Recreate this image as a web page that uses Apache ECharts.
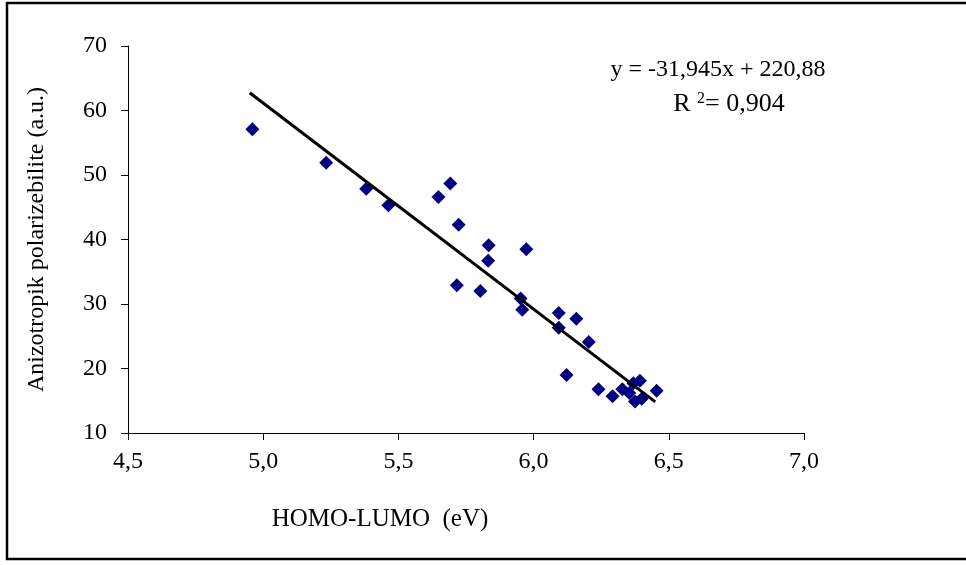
<!DOCTYPE html>
<html>
<head>
<meta charset="utf-8">
<script src="https://cdn.jsdelivr.net/npm/echarts@6/dist/echarts.min.js"></script>
<style>html,body{margin:0;padding:0;background:#fff}#c{width:966px;height:565px}</style>
</head>
<body>
<div id="c"></div>
<script>
// HOMO-LUMO gap (eV)
var gapX = [4.96, 5.233, 5.381, 5.463, 5.648, 5.692, 5.723, 5.834, 5.973, 5.832, 5.716, 5.803, 5.952, 5.958,
            6.093, 6.158, 6.093, 6.204, 6.122, 6.240, 6.292, 6.328, 6.354, 6.369, 6.393, 6.455, 6.375, 6.400];
// Anisotropic polarizability (a.u.)
var polY = [57.1, 51.9, 47.85, 45.3, 46.6, 48.7, 42.3, 39.1, 38.5, 36.7, 32.9, 32.0, 30.85, 29.1,
            28.6, 27.7, 26.3, 24.1, 19.0, 16.8, 15.7, 16.8, 16.2, 17.7, 18.1, 16.55, 14.9, 15.3];
// Linear trend line endpoints
var trendX = [4.95, 6.45];
var trendY = [62.75, 14.83];
var eqText = 'y = -31,945x + 220,88';
var r2Text = '0,904';
var xTicks = ['4,5', '5,0', '5,5', '6,0', '6,5', '7,0'];

var font = '"Liberation Serif", "Times New Roman", serif';
var pts = gapX.map(function (x, i) { return [x, polY[i]]; });
var trend = trendX.map(function (x, i) { return [x, trendY[i]]; });

var chart = echarts.init(document.getElementById('c'), null, {renderer: 'canvas'});
chart.setOption({
  animation: false,
  backgroundColor: '#ffffff',
  grid: {left: 128, right: 162, top: 46, bottom: 132},
  xAxis: {
    type: 'value', min: 4.5, max: 7.0, interval: 0.5,
    name: 'HOMO-LUMO  (eV)', nameLocation: 'middle', nameGap: 74,
    nameTextStyle: {fontFamily: font, fontSize: 25, color: '#000', padding: [0, 172, 0, 0]},
    axisLine: {lineStyle: {color: '#000', width: 1}},
    axisTick: {show: true, length: 7, lineStyle: {color: '#000'}},
    axisLabel: {fontFamily: font, fontSize: 24, color: '#000', margin: 17,
      formatter: function (v) { var i = Math.round((v - 4.5) / 0.5); return xTicks[i] || ''; }},
    splitLine: {show: false}
  },
  yAxis: {
    type: 'value', min: 10, max: 70, interval: 10,
    name: 'Anizotropik polarizebilite (a.u.)', nameLocation: 'middle', nameGap: 79,
    nameTextStyle: {fontFamily: font, fontSize: 24, color: '#000'},
    axisLine: {show: true, lineStyle: {color: '#000', width: 1}},
    axisTick: {show: true, length: 7, lineStyle: {color: '#000'}},
    axisLabel: {fontFamily: font, fontSize: 24, color: '#000', margin: 21},
    splitLine: {show: false}
  },
  series: [
    {
      type: 'scatter', data: pts, symbol: 'diamond', symbolSize: 14,
      itemStyle: {color: '#000080', opacity: 1}, z: 3
    },
    {
      type: 'line', data: trend, symbol: 'none',
      lineStyle: {color: '#000', width: 3}, z: 4
    }
  ],
  graphic: [
    {type: 'rect', shape: {x: 7, y: 3, width: 980, height: 556},
      style: {fill: 'none', stroke: '#000', lineWidth: 2.5}, silent: true},
    {type: 'text', x: 718, y: 70,
      style: {text: eqText, font: '24px ' + font, fill: '#000', align: 'center', verticalAlign: 'middle'}},
    {type: 'text', x: 729, y: 104,
      style: {text: '{a|R }{s|2}{a|= ' + r2Text + '}', font: '24px ' + font, fill: '#000',
        align: 'center', verticalAlign: 'middle',
        rich: {a: {fontFamily: font, fontSize: 26, fill: '#000'},
               s: {fontFamily: font, fontSize: 16, fill: '#000', verticalAlign: 'top', padding: [0, 0, 8, 0]}}}}
  ]
});
</script>
</body>
</html>
